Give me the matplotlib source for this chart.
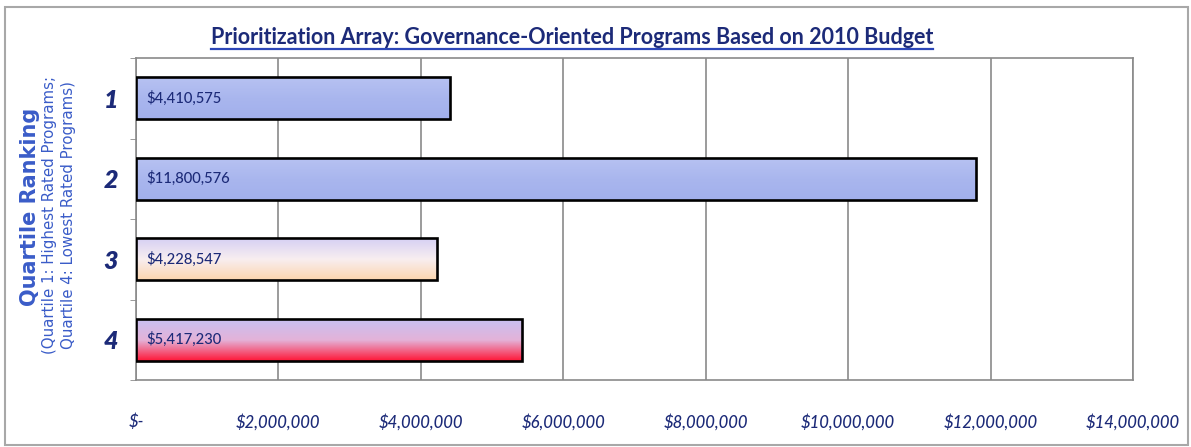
import numpy as np
import matplotlib
matplotlib.use("Agg")
import matplotlib.pyplot as plt
from matplotlib.patches import Rectangle
from matplotlib.lines import Line2D
from matplotlib.colors import to_rgb

# ---- data ----
quartiles = ["1", "2", "3", "4"]
budgets = [4410575, 11800576, 4228547, 5417230]
x_ticks = [0, 2000000, 4000000, 6000000, 8000000, 10000000, 12000000, 14000000]
x_tick_labels = ["$-", "$2,000,000", "$4,000,000", "$6,000,000", "$8,000,000",
                 "$10,000,000", "$12,000,000", "$14,000,000"]
title = "Prioritization Array: Governance-Oriented Programs Based on 2010 Budget"
y_title = "Quartile Ranking"
y_sub = "(Quartile 1: Highest Rated Programs;\nQuartile 4: Lowest Rated Programs)"

# ---- styles ----
gradients = [
    ["#b7c2f2", "#a9b6ee", "#a2b0ec"],
    ["#b7c2f2", "#a9b6ee", "#a2b0ec"],
    ["#d6d0f4", "#f8eef0", "#fcd6b0"],
    ["#c8c0f2", "#e4b2d8", "#ff1838"],
]
navy = "#1c2a78"
label_blue = "#3a5cc8"
grid_gray = "#8a8a8a"
narrow = ["Lato", "DejaVu Sans"]

W, H = 1191, 447
fig = plt.figure(figsize=(W / 100, H / 100), dpi=100)
fig.patch.set_facecolor("white")

ax = fig.add_axes([136 / W, 1 - 380 / H, (1133 - 136) / W, (380 - 58) / H])

ypos = np.arange(len(quartiles))
bars = ax.barh(ypos, budgets, height=0.52, facecolor="none",
               edgecolor="black", linewidth=1.9, zorder=4)

for bar, cols in zip(bars, gradients):
    x0, y0, w, h = bar.get_x(), bar.get_y(), bar.get_width(), bar.get_height()
    n = 64
    t = np.linspace(0, 1, n)
    c = np.array([to_rgb(cc) for cc in cols])
    pos = np.linspace(0, 1, len(cols))
    grad = np.stack([np.interp(t, pos, c[:, k]) for k in range(3)], axis=-1)
    grad = grad[:, None, :]
    im = ax.imshow(grad, extent=[x0, x0 + w, y0 + h, y0], origin="upper",
                   aspect="auto", zorder=3, interpolation="bilinear")
    im.set_clip_path(bar)

for yi, v in zip(ypos, budgets):
    ax.text(150000, yi, f"${v:,}", va="center", ha="left",
            fontsize=10.6, family=narrow, weight="medium", color=navy, zorder=5)

ax.set_xlim(0, 14000000)
ax.set_ylim(len(quartiles) - 0.5, -0.5)
ax.set_aspect("auto")

ax.set_xticks(x_ticks)
ax.set_xticklabels(x_tick_labels)
for lbl in ax.get_xticklabels():
    lbl.set_fontsize(12)
    lbl.set_fontstyle("italic")
    lbl.set_fontweight("medium")
    lbl.set_family(narrow)
    lbl.set_color(navy)
ax.set_yticks(ypos)
ax.set_yticklabels(quartiles)
for lbl in ax.get_yticklabels():
    lbl.set_fontsize(18)
    lbl.set_fontstyle("italic")
    lbl.set_fontweight("heavy")
    lbl.set_family(narrow)
    lbl.set_color(navy)
ax.tick_params(axis="x", length=0, pad=24)
ax.tick_params(axis="y", length=0, pad=13)
ax.set_yticks(np.arange(len(quartiles) + 1) - 0.5, minor=True)
ax.tick_params(axis="y", which="minor", length=4, color=grid_gray, direction="out")

ax.grid(axis="x", color=grid_gray, linewidth=1.2, zorder=1)
ax.set_axisbelow(True)
for s in ax.spines.values():
    s.set_color(grid_gray)
    s.set_linewidth(1.2)

# y-axis titles
fig.text(30 / W, 1 - 207 / H, y_title, rotation=90, ha="center", va="center",
         fontsize=15, weight="bold", color=label_blue, family="DejaVu Sans")
fig.text(59 / W, 1 - 215 / H, y_sub, rotation=90, ha="center", va="center",
         fontsize=10.8, color=label_blue, family="DejaVu Sans", linespacing=1.25,
         multialignment="center")

# title
ttl = fig.text(572 / W, 1 - 37 / H, title, ha="center", va="center",
               fontsize=15.5, weight="bold", color=navy, family=narrow)

# figure border
fig.add_artist(Rectangle((5 / W, 1 - 445 / H), (1188 - 5) / W, (445 - 7) / H,
                         transform=fig.transFigure, fill=False,
                         edgecolor="#a8a8a8", linewidth=1.5))

fig.canvas.draw()
bb = ttl.get_window_extent()
uy = bb.y0 - 1
fig.add_artist(Line2D([bb.x0 / W, bb.x1 / W], [uy / H, uy / H],
                      transform=fig.transFigure, color="#2c46b8", linewidth=1.6))

fig.savefig("out.png", dpi=100, facecolor="white")
